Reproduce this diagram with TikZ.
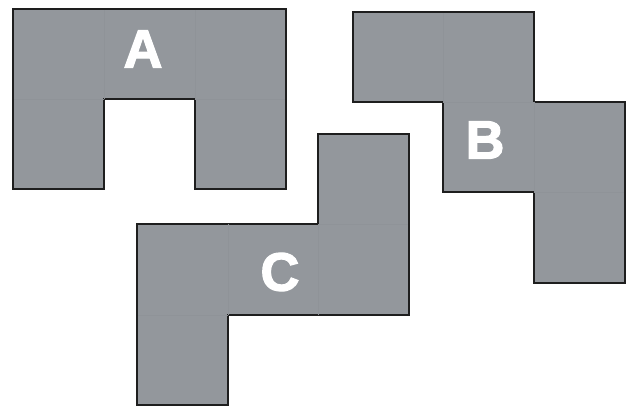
\documentclass[tikz,border=0pt]{standalone}
\usepackage{fontspec}
\setmainfont{Liberation Sans}
\newfontfamily\heavyfont[FakeBold=2.2]{Liberation Sans Bold}
\usepackage{tikz}
\definecolor{tilegray}{RGB}{147,151,156}
\definecolor{seamgray}{RGB}{143,147,152}
\definecolor{edgeblack}{RGB}{30,30,30}

\begin{document}
\begin{tikzpicture}[x=1pt, y=-1pt,
  tile/.style={fill=tilegray, draw=edgeblack, line width=2.6pt, line join=miter},
  seam/.style={draw=seamgray, line width=0.5pt},
  letter/.style={text=white, font=\fontsize{54}{54}\heavyfont, inner sep=0pt}]
\useasboundingbox (0,0) rectangle (629,407);
% piece A
\path[tile] (13,9) -- (286,9) -- (286,189) -- (195,189) -- (195,99) -- (104,99)
  -- (104,189) -- (13,189) -- cycle;
\draw[seam] (104,10) -- (104,99) (195,10) -- (195,99) (14,99) -- (104,99) (195,99) -- (285,99);
% piece B
\path[tile] (353,12) -- (534,12) -- (534,102) -- (625,102) -- (625,283) -- (534,283)
  -- (534,192) -- (443,192) -- (443,102) -- (353,102) -- cycle;
\draw[seam] (443,13) -- (443,102) (443,102) -- (534,102) (534,102) -- (534,192) (534,192) -- (624,192);
% piece C
\path[tile] (318,134) -- (409,134) -- (409,315) -- (228,315) -- (228,405) -- (137,405)
  -- (137,224) -- (318,224) -- cycle;
\draw[seam] (318,224) -- (408,224) (318,224) -- (318,315) (228,224) -- (228,315) (138,315) -- (228,315);
% labels
\node[letter] (labA) at (143,49) {A};
\node[letter] (labB) at (485,140) {B};
\node[letter] (labC) at (280,272) {C};
\end{tikzpicture}
\end{document}
